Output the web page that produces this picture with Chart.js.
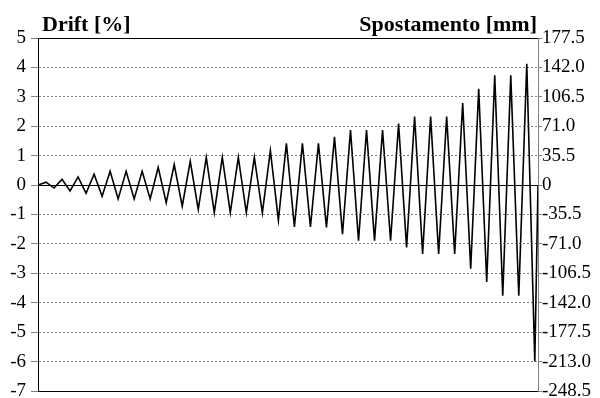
<!DOCTYPE html>
<html>
<head>
<meta charset="utf-8">
<script src="https://cdn.jsdelivr.net/npm/chart.js@4/dist/chart.umd.min.js"></script>
<style>
  html, body { margin: 0; padding: 0; background: #fff; }
  #wrap { width: 600px; height: 398px; }
</style>
</head>
<body>
<div id="wrap"><canvas id="driftChart"></canvas></div>
<script>
// peaks of the loading history, in drift %
const drift = [
    0, 0.1, -0.1, 0.2, -0.2, 0.28, -0.28, 0.37, -0.38,
    0.47, -0.47, 0.47, -0.47, 0.47, -0.47,
    0.6, -0.6, 0.7, -0.72, 0.81, -0.83,
    0.94, -0.94, 0.94, -0.94, 0.94, -0.94, 0.94, -0.94,
    1.17, -1.19, 1.42, -1.42, 1.42, -1.42, 1.42, -1.44,
    1.64, -1.67, 1.87, -1.89, 1.87, -1.89, 1.87, -1.89,
    2.09, -2.12, 2.33, -2.34, 2.33, -2.34, 2.33, -2.34,
    2.79, -2.84, 3.27, -3.29, 3.73, -3.76, 3.73, -3.76,
    4.12, -6.0, 0
];
const lastStep = 62.4;
const leftTicks = [5, 4, 3, 2, 1, 0, -1, -2, -3, -4, -5, -6, -7];
const rightTicks = [177.5, 142.0, 106.5, 71.0, 35.5, 0, -35.5, -71.0, -106.5, -142.0, -177.5, -213.0, -248.5];
const rightLabels = ["177.5", "142.0", "106.5", "71.0", "35.5", "0", "-35.5", "-71.0", "-106.5", "-142.0", "-177.5", "-213.0", "-248.5"];
const leftTitle = "Drift [%]";
const rightTitle = "Spostamento [mm]";

const points = drift.map((v, i) => ({ x: Math.min(i, lastStep), y: v }));
const isFrame = v => v === 0 || v === 5 || v === -7;
const tickFont = { family: "'Liberation Serif', 'Times New Roman', serif", size: 19 };

const titles = {
    id: "titles",
    afterDraw(chart) {
        const ctx = chart.ctx;
        const area = chart.chartArea;
        ctx.save();
        ctx.fillStyle = "#000";
        ctx.font = "bold 22px 'Liberation Serif', 'Times New Roman', serif";
        ctx.textBaseline = "alphabetic";
        ctx.textAlign = "left";
        ctx.fillText(leftTitle, area.left + 4, 31);
        ctx.textAlign = "right";
        ctx.fillText(rightTitle, area.right - 1, 31);
        ctx.restore();
    }
};

new Chart(document.getElementById("driftChart"), {
    type: "line",
    data: {
        datasets: [{
            data: points,
            borderColor: "#000",
            borderWidth: 1.6,
            pointRadius: 0,
            tension: 0,
            fill: false
        }]
    },
    options: {
        responsive: true,
        maintainAspectRatio: false,
        animation: false,
        layout: { padding: { top: 38, bottom: 7, left: 0, right: 0 } },
        plugins: { legend: { display: false }, tooltip: { enabled: false } },
        scales: {
            x: {
                type: "linear",
                min: 0,
                max: lastStep,
                display: false
            },
            y: {
                position: "left",
                min: -7,
                max: 5,
                afterBuildTicks: s => { s.ticks = leftTicks.map(v => ({ value: v })); },
                afterFit: s => { s.width = 38; s.paddingTop = 0; s.paddingBottom = 0; },
                ticks: { color: "#000", font: tickFont, padding: 5, autoSkip: false },
                grid: {
                    color: c => isFrame(c.tick.value) ? "rgba(0,0,0,0)" : "#808080",
                    lineWidth: 1,
                    tickLength: 7,
                    tickColor: "#808080"
                },
                border: { display: true, color: "#000", width: 1, dash: [2, 2] }
            },
            y1: {
                position: "right",
                min: -248.5,
                max: 177.5,
                afterBuildTicks: s => { s.ticks = rightTicks.map(v => ({ value: v })); },
                afterFit: s => { s.width = 62; s.paddingTop = 0; s.paddingBottom = 0; },
                ticks: {
                    color: "#000",
                    font: tickFont,
                    padding: 0,
                    autoSkip: false,
                    callback: (v, i) => rightLabels[i]
                },
                grid: {
                    color: c => isFrame(c.tick.value / 35.5) ? "#000" : "rgba(0,0,0,0)",
                    lineWidth: 1,
                    tickLength: 4,
                    tickColor: "#808080"
                },
                border: { display: true, color: "#808080", width: 1 }
            }
        }
    },
    plugins: [titles]
});
</script>
</body>
</html>
